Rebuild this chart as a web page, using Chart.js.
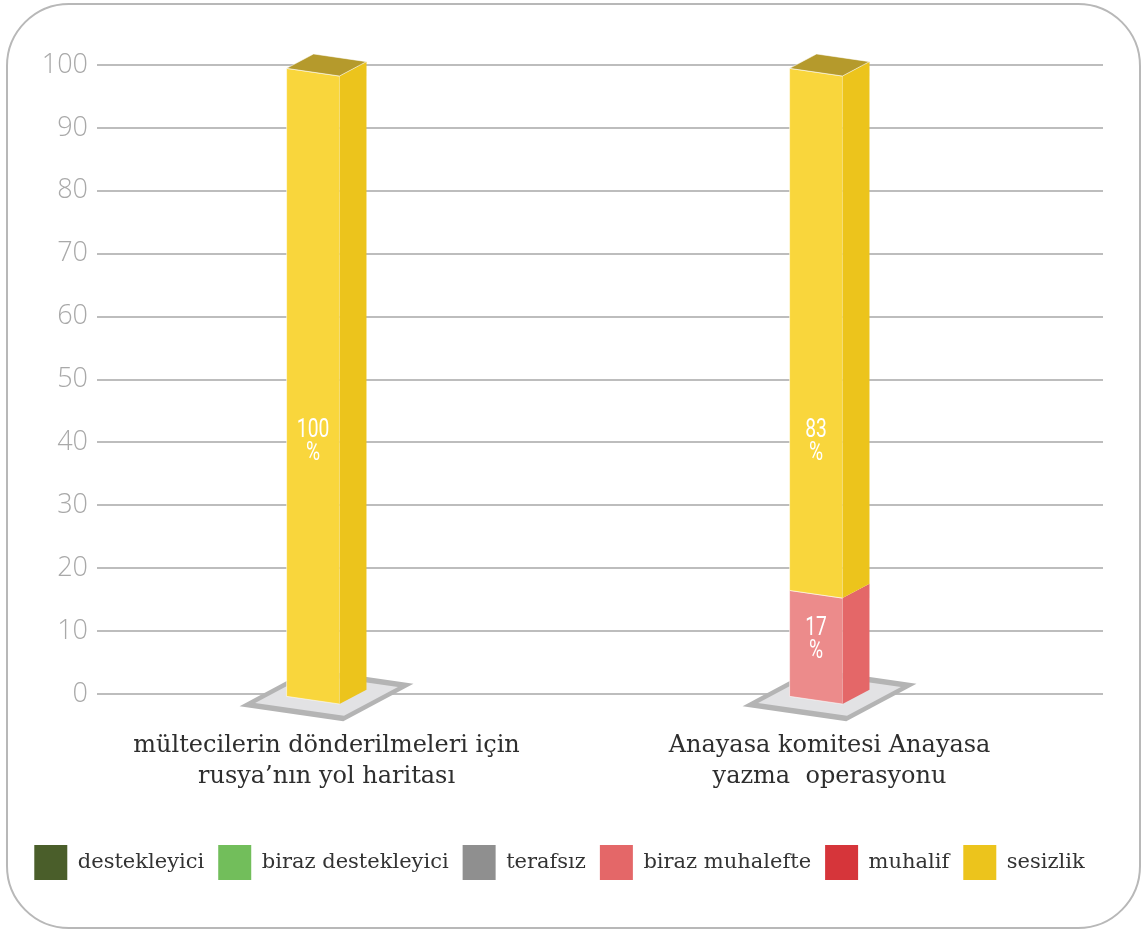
<!DOCTYPE html>
<html>
<head>
<meta charset="utf-8">
<script src="https://cdn.jsdelivr.net/npm/chart.js@4.4.1/dist/chart.umd.min.js"></script>
<style>
  html, body { margin: 0; padding: 0; background: #fff; }
  #wrap { width: 1148px; height: 933px; }
</style>
</head>
<body>
<div id="wrap"><canvas id="barChart"></canvas></div>
<script>
// data
var categories = [
  ["mültecilerin dönderilmeleri için", "rusya’nın yol haritası"],
  ["Anayasa komitesi Anayasa", "yazma  operasyonu"]
];
var seriesNames = ["destekleyici", "biraz destekleyici", "terafsız", "biraz muhalefte", "muhalif", "sesizlik"];
var destekleyici      = [0, 0];
var birazDestekleyici = [0, 0];
var terafsiz          = [0, 0];
var birazMuhalefte    = [0, 17];
var muhalif           = [0, 0];
var sesizlik          = [100, 83];
var yTicks = [0, 10, 20, 30, 40, 50, 60, 70, 80, 90, 100];

// colours: legend/side, front face, top face
var sideColors  = ['#4a5e2a', '#72be5b', '#8f8f8f', '#e46768', '#d6353a', '#ecc41c'];
var frontColors = ['#5c7237', '#8fd078', '#a6a6a6', '#ec8b8b', '#e25b5f', '#f9d63c'];
var topColors   = ['#36461e', '#579a43', '#727272', '#c25557', '#aa2a2e', '#b59a2c'];

var seriesData = [destekleyici, birazDestekleyici, terafsiz, birazMuhalefte, muhalif, sesizlik];
var labelCap = 40; // big segments get their label at this height

var serif = '"DejaVu Serif", "Liberation Serif", serif';

var datasets = seriesNames.map(function(name, i) {
  return {
    label: name,
    data: seriesData[i],
    backgroundColor: sideColors[i],
    stack: 'main'
  };
});
// empty stack so the bar sits left of the category centre
datasets.push({ label: '', data: [0, 0], backgroundColor: 'rgba(0,0,0,0)', stack: 'ghost' });

function geom(el) {
  var w = el.width;
  var s = w * 0.145, dx = w * 0.51, dy = -w * 0.272;
  return { w: w, x0: el.x - w / 2, s: s, dx: dx, dy: dy, off: -(s + dy) / 2 };
}

function poly(ctx, pts, fill, stroke) {
  ctx.beginPath();
  ctx.moveTo(pts[0][0], pts[0][1]);
  for (var k = 1; k < pts.length; k++) ctx.lineTo(pts[k][0], pts[k][1]);
  ctx.closePath();
  ctx.fillStyle = fill;
  ctx.fill();
  if (stroke) {
    ctx.strokeStyle = stroke;
    ctx.lineWidth = 1;
    ctx.stroke();
  }
}

function plate(ctx, cx, cy, g, a, b, fill) {
  var W = [g.w, g.s], D = [g.dx, g.dy];
  poly(ctx, [
    [cx - a * W[0] - b * D[0], cy - a * W[1] - b * D[1]],
    [cx + a * W[0] - b * D[0], cy + a * W[1] - b * D[1]],
    [cx + a * W[0] + b * D[0], cy + a * W[1] + b * D[1]],
    [cx - a * W[0] + b * D[0], cy - a * W[1] + b * D[1]]
  ], fill);
}

// condensed white text, squeezed horizontally
function narrowText(ctx, txt, x, y) {
  ctx.save();
  ctx.translate(x, y);
  ctx.scale(0.74, 1);
  ctx.fillText(txt, 0, 0);
  ctx.restore();
}

var threeD = {
  id: 'threeD',
  beforeDraw: function(chart) {
    var ctx = chart.ctx;
    ctx.save();
    ctx.beginPath();
    ctx.roundRect(7, 4, 1133, 924, 62);
    ctx.strokeStyle = '#b8b8b8';
    ctx.lineWidth = 2;
    ctx.stroke();
    ctx.restore();
  },
  beforeDatasetDraw: function() {
    return false;
  },
  afterDatasetsDraw: function(chart) {
    var ctx = chart.ctx;
    var yScale = chart.scales.y;
    var n = seriesNames.length;
    ctx.save();
    for (var i = 0; i < categories.length; i++) {
      var g = geom(chart.getDatasetMeta(0).data[i]);
      var base = chart.getDatasetMeta(0).data[i].base;
      var cx = g.x0 + (g.w + g.dx) / 2;

      // floor plate
      plate(ctx, cx, base + 1, g, 0.98, 1.3, '#b4b4b4');
      plate(ctx, cx, base + 1, g, 0.84, 1.0, '#e2e2e4');

      var topIdx = -1;
      for (var d = 0; d < n; d++) if (seriesData[d][i] > 0) topIdx = d;

      for (d = 0; d < n; d++) {
        if (!(seriesData[d][i] > 0)) continue;
        var el = chart.getDatasetMeta(d).data[i];
        var t = el.y + g.off, b = el.base + g.off;
        var xl = g.x0, xr = g.x0 + g.w;
        // front
        poly(ctx, [[xl, t], [xr, t + g.s], [xr, b + g.s], [xl, b]], frontColors[d], 'rgba(255,255,255,0.55)');
        // side
        poly(ctx, [[xr, t + g.s], [xr + g.dx, t + g.s + g.dy], [xr + g.dx, b + g.s + g.dy], [xr, b + g.s]], sideColors[d]);
        if (d === topIdx) {
          poly(ctx, [[xl, t], [xr, t + g.s], [xr + g.dx, t + g.s + g.dy], [xl + g.dx, t + g.dy]], topColors[d], 'rgba(255,255,255,0.55)');
        }
      }

      // value labels
      var start = 0;
      ctx.fillStyle = '#ffffff';
      ctx.font = '26px Roboto, "Noto Sans", sans-serif';
      ctx.textAlign = 'center';
      ctx.textBaseline = 'middle';
      for (d = 0; d < n; d++) {
        var v = seriesData[d][i];
        if (!(v > 0)) continue;
        var mid = Math.min(start + v / 2, labelCap);
        var ly = yScale.getPixelForValue(mid);
        narrowText(ctx, String(v), g.x0 + g.w / 2, ly - 12);
        narrowText(ctx, '%', g.x0 + g.w / 2, ly + 11);
        start += v;
      }

      // category labels
      ctx.fillStyle = '#2e2e2e';
      ctx.font = '24px ' + serif;
      for (var l = 0; l < categories[i].length; l++) {
        ctx.fillText(categories[i][l], cx, yScale.bottom + 52 + l * 31);
      }
    }
    ctx.restore();
  }
};

var ctx = document.getElementById('barChart').getContext('2d');
new Chart(ctx, {
  type: 'bar',
  data: {
    labels: categories.map(function(c) { return c.join(' '); }),
    datasets: datasets
  },
  options: {
    responsive: true,
    maintainAspectRatio: false,
    animation: false,
    categoryPercentage: 0.282,
    barPercentage: 0.746,
    layout: { padding: { top: 65, right: 45, bottom: 43, left: 16 } },
    scales: {
      x: {
        stacked: true,
        grid: { display: false },
        border: { display: false },
        ticks: { display: false },
        afterFit: function(s) { s.height = 137; }
      },
      y: {
        stacked: true,
        min: 0,
        max: 100,
        border: { display: false },
        grid: { color: '#bdbdbd', lineWidth: 2, drawTicks: false },
        ticks: {
          padding: 9,
          color: '#a9a9a9',
          font: { family: '"Open Sans", "Noto Sans", sans-serif', size: 27, weight: '300' }
        },
        afterBuildTicks: function(s) {
          s.ticks = yTicks.map(function(v) { return { value: v }; });
        },
        afterFit: function(s) { s.width = 81; }
      }
    },
    plugins: {
      legend: {
        position: 'bottom',
        labels: {
          boxWidth: 33,
          boxHeight: 35,
          padding: 14,
          color: '#333333',
          font: { family: serif, size: 21 },
          filter: function(item) { return item.text !== ''; }
        }
      },
      tooltip: { enabled: false }
    }
  },
  plugins: [threeD]
});
</script>
</body>
</html>
